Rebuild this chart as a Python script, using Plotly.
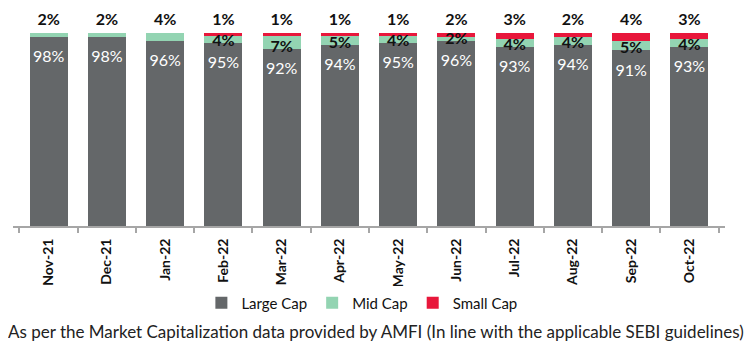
import plotly.graph_objects as go

months = ["Nov-21", "Dec-21", "Jan-22", "Feb-22", "Mar-22", "Apr-22",
          "May-22", "Jun-22", "Jul-22", "Aug-22", "Sep-22", "Oct-22"]
large_cap = [98, 98, 96, 95, 92, 94, 95, 96, 93, 94, 91, 93]
mid_cap = [2, 2, 4, 4, 7, 5, 4, 2, 4, 4, 5, 4]
small_cap = [0, 0, 0, 1, 1, 1, 1, 2, 3, 2, 4, 3]

GREY = "#646769"
GREEN = "#93d4b2"
RED = "#e8173b"
FONT = "Lato"

fig = go.Figure()
fig.add_bar(x=months, y=large_cap, name="Large Cap", marker_color=GREY,
            marker_line_width=0)
fig.add_bar(x=months, y=mid_cap, name="Mid Cap", marker_color=GREEN,
            marker_line_width=0)
fig.add_bar(x=months, y=small_cap, name="Small Cap", marker_color=RED,
            marker_line_width=0)

# Large cap labels (white, inside near top)
fig.add_scatter(x=months, y=[v - 11 for v in large_cap], mode="text",
                text=[f"{v}%" for v in large_cap], showlegend=False,
                textfont=dict(color="white", size=16, family=FONT),
                hoverinfo="skip", cliponaxis=False)
# Mid cap labels inside (only where a small cap segment sits on top)
mx, my, mt = [], [], []
for m, l, md, s in zip(months, large_cap, mid_cap, small_cap):
    if s > 0:
        mx.append(m); my.append(l + 0.5); mt.append(f"<b>{md}%</b>")
fig.add_scatter(x=mx, y=my, mode="text", text=mt, showlegend=False,
                textfont=dict(color="#111111", size=16, family=FONT),
                hoverinfo="skip", cliponaxis=False)
# Top labels (small cap, or mid cap when there is no small cap)
top_text = [f"<b>{s}%</b>" if s > 0 else f"<b>{md}%</b>"
            for md, s in zip(mid_cap, small_cap)]
totals = [l + md + s for l, md, s in zip(large_cap, mid_cap, small_cap)]
fig.add_scatter(x=months, y=[t + 6.5 for t in totals],
                mode="text", text=top_text, textposition="middle center",
                showlegend=False,
                textfont=dict(color="#111111", size=16, family=FONT),
                hoverinfo="skip", cliponaxis=False)

fig.update_layout(
    width=752, height=356,
    barmode="stack", bargap=0.35,
    margin=dict(l=5, r=35, t=0, b=138),
    paper_bgcolor="white", plot_bgcolor="white",
    font=dict(family=FONT, color="#111111"),
    showlegend=True,
    legend=dict(orientation="h", x=0.49, xanchor="center", y=-0.353,
                yanchor="middle", font=dict(size=15, family=FONT),
                itemwidth=30, traceorder="normal"),
    xaxis=dict(showline=True, linecolor="#a6a6a6", linewidth=2,
               ticks="outside", tickson="boundaries", ticklen=5,
               tickcolor="#a6a6a6", tickwidth=2, tickangle=-90,
               ticklabelstandoff=5,
               tickfont=dict(size=14, family=FONT, color="#111111",
                             weight="bold"),
               showgrid=False),
    yaxis=dict(range=[0, 113], visible=False, showgrid=False),
    annotations=[dict(
        text="As per the Market Capitalization data provided by AMFI (In line with the applicable SEBI guidelines)",
        xref="paper", yref="paper", x=0.51, y=-0.486, xanchor="center",
        yanchor="middle", showarrow=False,
        font=dict(size=17, family=FONT, color="#222222"))],
)

fig.write_html("out.html")
